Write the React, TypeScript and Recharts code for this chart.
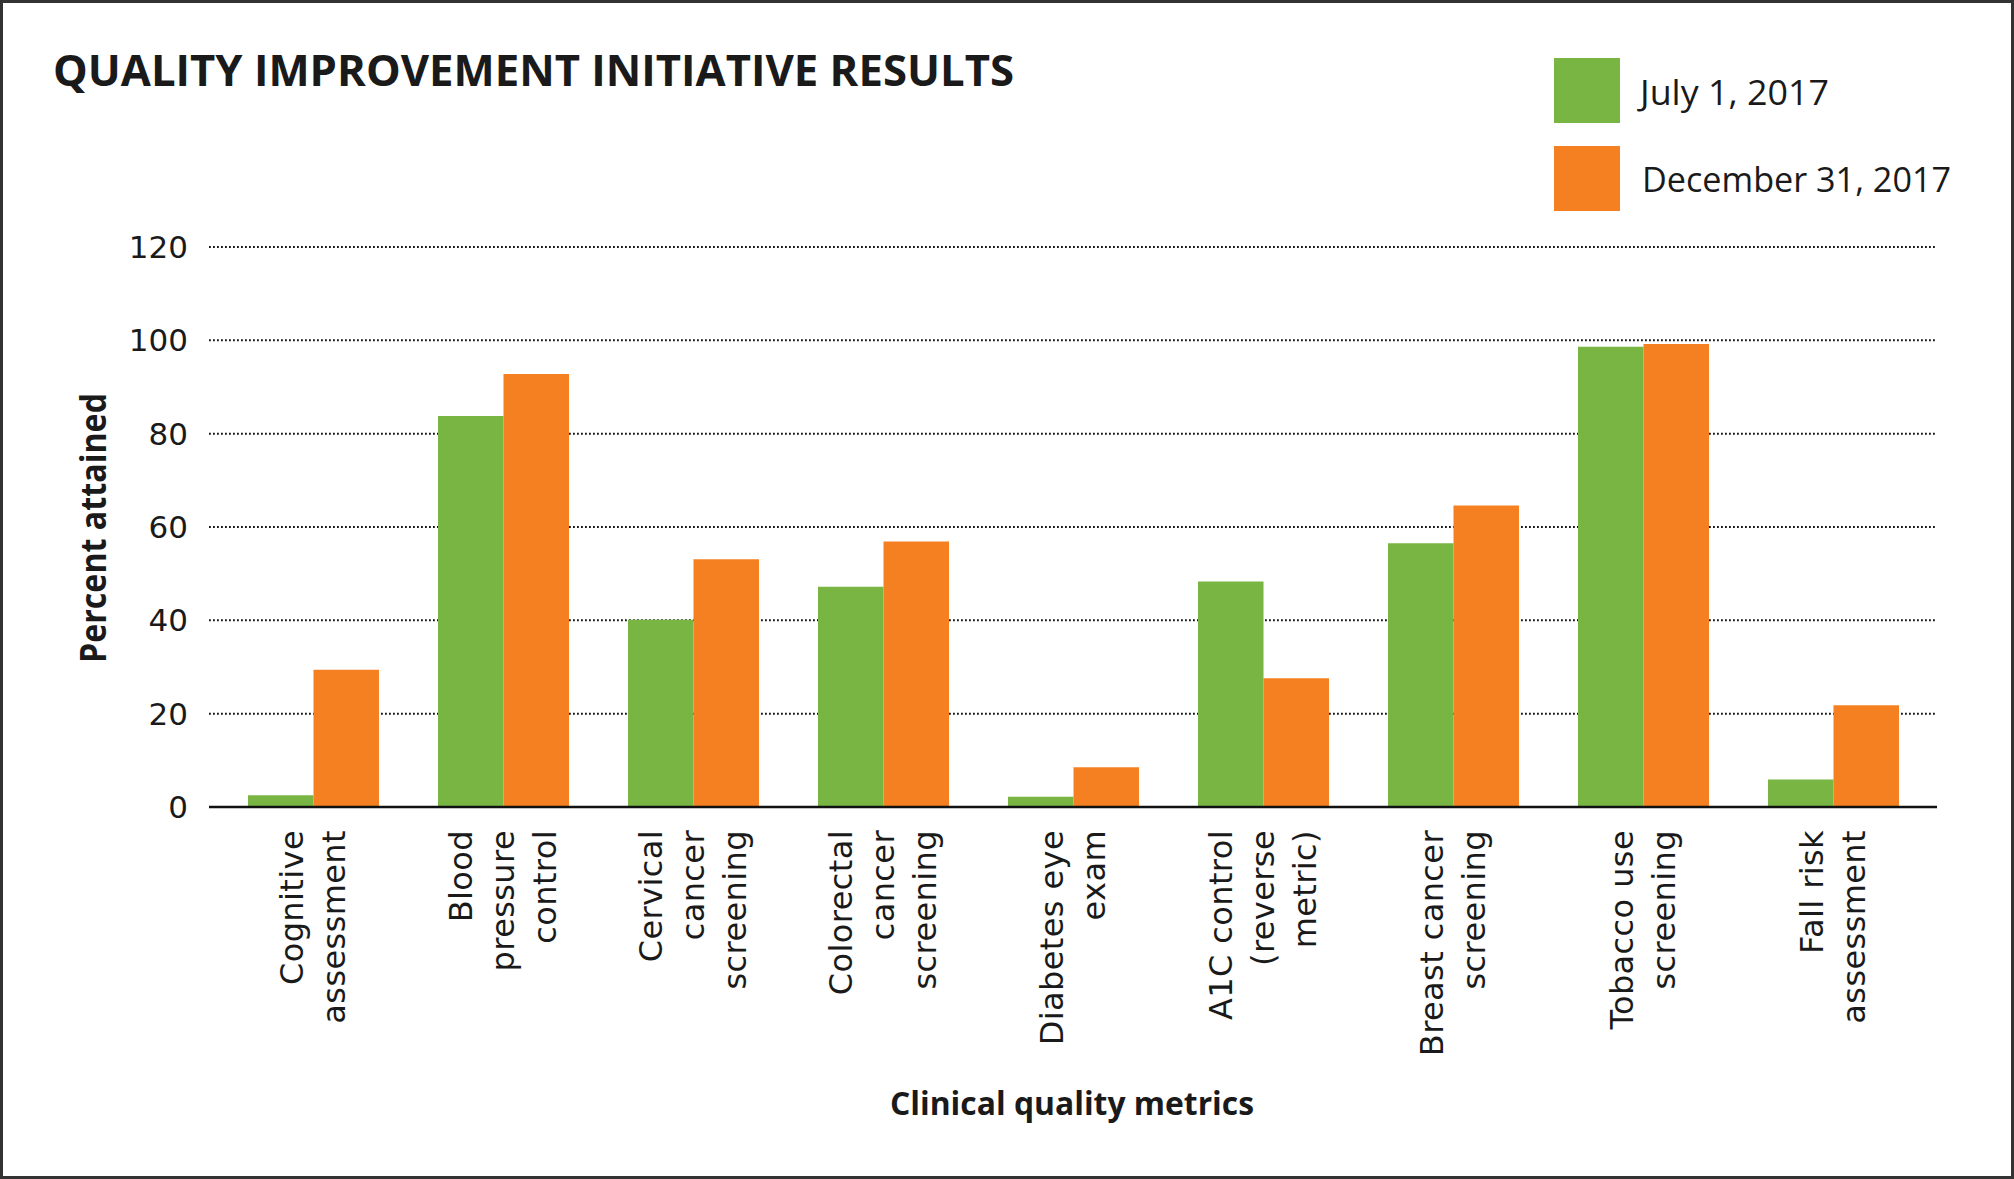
import { Bar, BarChart, CartesianGrid, XAxis, YAxis } from 'recharts';

const categories = [
  'Cognitive assessment',
  'Blood pressure control',
  'Cervical cancer screening',
  'Colorectal cancer screening',
  'Diabetes eye exam',
  'A1C control (reverse metric)',
  'Breast cancer screening',
  'Tobacco use screening',
  'Fall risk assessment',
];

const labelLines = [
  ['Cognitive', 'assessment'],
  ['Blood', 'pressure', 'control'],
  ['Cervical', 'cancer', 'screening'],
  ['Colorectal', 'cancer', 'screening'],
  ['Diabetes eye', 'exam'],
  ['A1C control', '(reverse', 'metric)'],
  ['Breast cancer', 'screening'],
  ['Tobacco use', 'screening'],
  ['Fall risk', 'assessment'],
];

const july = [2.5, 83.8, 40.1, 47.2, 2.2, 48.3, 56.5, 98.6, 5.9];
const december = [29.4, 92.8, 53.1, 56.9, 8.5, 27.6, 64.6, 99.2, 21.8];

const seriesNames = ['July 1, 2017', 'December 31, 2017'];
const yTicks = [0, 20, 40, 60, 80, 100, 120];

const GREEN = '#78b543';
const ORANGE = '#f58021';

const data = categories.map((category, i) => ({
  category,
  july: july[i],
  december: december[i],
}));

function CategoryTick(props: any) {
  const { x, y, payload } = props;
  const lines = labelLines[payload.index] ?? [payload.value];
  const step = 42;
  return (
    <g>
      {lines.map((line, i) => {
        const cx = x + (i - (lines.length - 1) / 2) * step;
        return (
          <text
            key={i}
            transform={`translate(${cx}, ${y}) rotate(-90)`}
            textAnchor="end"
            dy="0.35em"
            fontFamily="DejaVu Sans"
            fontSize={32}
            letterSpacing={0.4}
            fill="#1a1a1a"
          >
            {line}
          </text>
        );
      })}
    </g>
  );
}

export default function App() {
  return (
    <div style={{ position: 'absolute', left: 0, top: 0, width: 2014, height: 1179, background: '#fff' }}>
      <BarChart
        width={2014}
        height={1179}
        data={data}
        margin={{ top: 247, right: 77, left: 0, bottom: 42 }}
        barGap={0}
        barSize={65.5}
      >
        <CartesianGrid vertical={false} stroke="#111" strokeWidth={2} strokeDasharray="1.8 2.2" />
        <XAxis
          dataKey="category"
          interval={0}
          height={330}
          padding={{ left: 9, right: 9 }}
          tickLine={false}
          tickSize={0}
          tickMargin={23}
          axisLine={{ stroke: '#111', strokeWidth: 2.5 }}
          tick={<CategoryTick />}
        />
        <YAxis
          width={209}
          domain={[0, 120]}
          ticks={yTicks}
          axisLine={false}
          tickLine={false}
          tickSize={0}
          tickMargin={21}
          tick={{ fontFamily: 'DejaVu Sans', fontSize: 31, fill: '#1a1a1a' }}
        />
        <Bar dataKey="july" name={seriesNames[0]} fill={GREEN} isAnimationActive={false} />
        <Bar dataKey="december" name={seriesNames[1]} fill={ORANGE} isAnimationActive={false} />
      </BarChart>

      <svg
        width={2014}
        height={1179}
        style={{ position: 'absolute', left: 0, top: 0, pointerEvents: 'none' }}
      >
        <rect x={1.5} y={1.5} width={2011} height={1176} fill="none" stroke="#333" strokeWidth={3} />

        <text
          x={53}
          y={86}
          fontFamily="Open Sans"
          fontWeight={700}
          fontSize={43.5}
          fill="#1a1a1a"
          textLength={961}
          lengthAdjust="spacingAndGlyphs"
        >
          QUALITY IMPROVEMENT INITIATIVE RESULTS
        </text>

        <rect x={1554} y={58} width={66} height={65} fill={GREEN} />
        <text
          x={1640}
          y={105}
          fontFamily="Open Sans"
          fontSize={35}
          fill="#1a1a1a"
          textLength={189}
          lengthAdjust="spacingAndGlyphs"
        >
          {seriesNames[0]}
        </text>
        <rect x={1554} y={146} width={66} height={65} fill={ORANGE} />
        <text
          x={1642}
          y={192}
          fontFamily="Open Sans"
          fontSize={35}
          fill="#1a1a1a"
          textLength={309}
          lengthAdjust="spacingAndGlyphs"
        >
          {seriesNames[1]}
        </text>

        <text
          transform="translate(106, 663) rotate(-90)"
          fontFamily="Open Sans"
          fontWeight={700}
          fontSize={35}
          fill="#1a1a1a"
          textLength={270}
          lengthAdjust="spacingAndGlyphs"
        >
          Percent attained
        </text>

        <text
          x={890}
          y={1115}
          fontFamily="Open Sans"
          fontWeight={700}
          fontSize={33}
          fill="#1a1a1a"
          textLength={364}
          lengthAdjust="spacingAndGlyphs"
        >
          Clinical quality metrics
        </text>
      </svg>
    </div>
  );
}
